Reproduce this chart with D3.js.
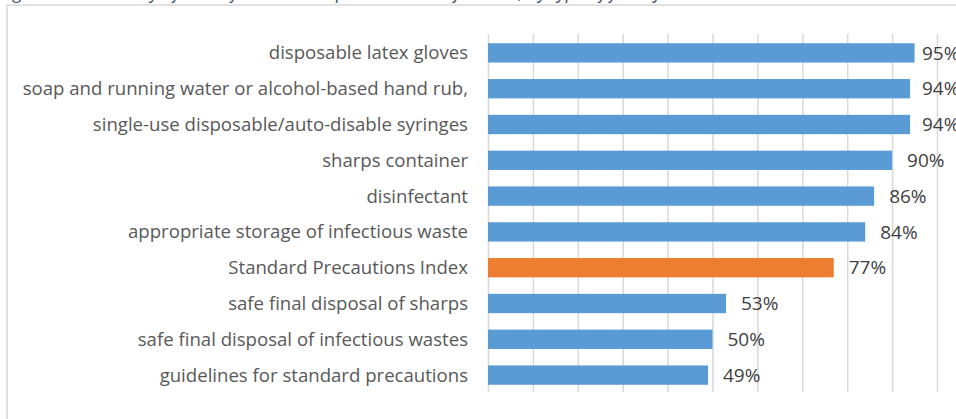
<!DOCTYPE html>
<html>
<head>
<meta charset="utf-8">
<script src="https://cdn.jsdelivr.net/npm/d3@7"></script>
<style>
  body { margin: 0; background: #fff; }
  svg { display: block; font-family: "Open Sans", sans-serif; }
</style>
</head>
<body>
<svg id="chart" width="956" height="419"></svg>
<script>
// categories and values, top to bottom
var categories = ["disposable latex gloves",
  "soap and running water or alcohol-based hand rub,",
  "single-use disposable/auto-disable syringes",
  "sharps container",
  "disinfectant",
  "appropriate storage of infectious waste",
  "Standard Precautions Index",
  "safe final disposal of sharps",
  "safe final disposal of infectious wastes",
  "guidelines for standard precautions"];
var values = [0.95, 0.94, 0.94, 0.90, 0.86, 0.84, 0.77, 0.53, 0.50, 0.49];
var highlight = "Standard Precautions Index";
var gridTicks = [0, 0.1, 0.2, 0.3, 0.4, 0.5, 0.6, 0.7, 0.8, 0.9, 1];
var caption = "Figure 7: Availability of items for standard precautions in facilities, by type of facility";

var svg = d3.select("#chart"),
    width = +svg.attr("width"),
    height = +svg.attr("height");

var plot = {left: 488, right: 937, top: 35, bottom: 393};

// caption of the figure, cut off at the top like in the source
svg.append("text")
    .attr("x", 0)
    .attr("y", -1)
    .attr("fill", "#44546a")
    .style("font-style", "italic")
    .style("font-size", "18px")
    .text(caption);

// chart border
svg.append("rect")
    .attr("x", 7)
    .attr("y", 5)
    .attr("width", width)
    .attr("height", height)
    .attr("fill", "none")
    .attr("stroke", "#d9d9d9")
    .attr("stroke-width", 1.5);

var x = d3.scaleLinear()
    .domain([0, 1])
    .range([plot.left, plot.right]);

var y = d3.scaleBand()
    .domain(categories)
    .range([plot.top, plot.bottom])
    .paddingInner(0.46)
    .paddingOuter(0.23);

// vertical gridlines
var grid = svg.append("g")
    .attr("transform", "translate(0," + (plot.bottom - 1) + ")")
    .call(d3.axisBottom(x)
      .tickValues(gridTicks)
      .tickSize(-(plot.bottom - plot.top))
      .tickFormat(""));
grid.select(".domain").remove();
grid.selectAll(".tick line")
    .attr("stroke", "#d9d9d9")
    .attr("stroke-width", 1.5);

var rows = categories.map(function(c, i) { return {cat: c, val: values[i]}; });

// bars
svg.selectAll(".bar")
    .data(rows)
  .enter().append("rect")
    .attr("class", "bar")
    .attr("x", x(0))
    .attr("y", function(d) { return y(d.cat); })
    .attr("width", function(d) { return x(d.val) - x(0); })
    .attr("height", y.bandwidth())
    .attr("fill", function(d) { return d.cat == highlight ? "#ed7d31" : "#5b9bd5"; });

// category labels
svg.selectAll(".cat")
    .data(rows)
  .enter().append("text")
    .attr("class", "cat")
    .attr("x", plot.left - 20)
    .attr("y", function(d) { return y(d.cat) + y.bandwidth() / 2; })
    .attr("dy", "0.35em")
    .attr("text-anchor", "end")
    .attr("fill", "#595959")
    .style("font-size", "18.6px")
    .text(function(d) { return d.cat; });

// value labels, kept inside the chart on the right
var fmt = d3.format(".0%");
svg.selectAll(".val")
    .data(rows)
  .enter().append("text")
    .attr("class", "val")
    .attr("x", function(d) { return Math.min(x(d.val) + 15, 922); })
    .attr("y", function(d) { return y(d.cat) + y.bandwidth() / 2; })
    .attr("dy", "0.35em")
    .attr("fill", "#404040")
    .style("font-size", "19px")
    .text(function(d) { return fmt(d.val); });
</script>
</body>
</html>
